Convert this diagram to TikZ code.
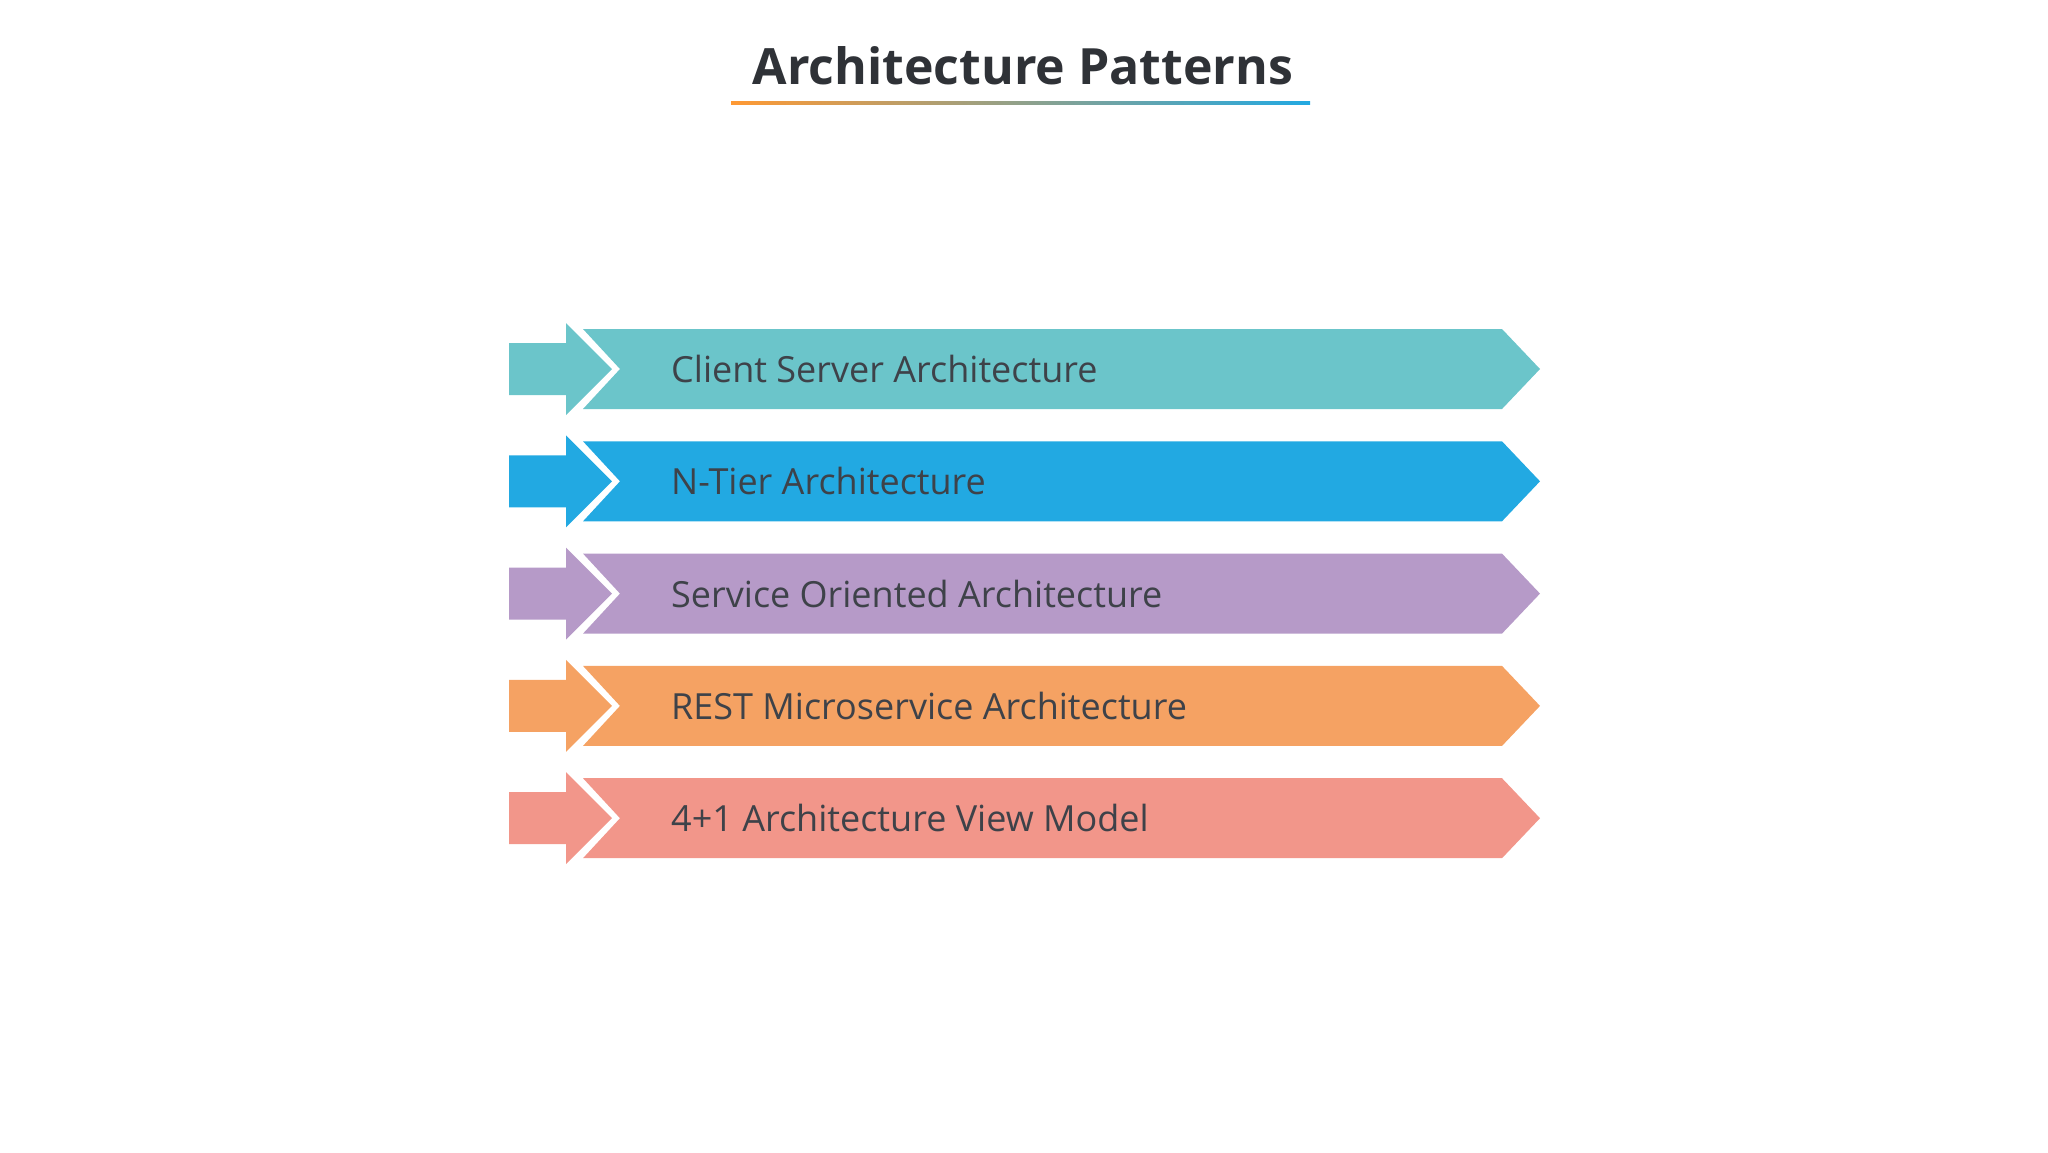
\documentclass[tikz,border=0pt]{standalone}
\usepackage{fontspec}
\setmainfont{Open Sans}
\usetikzlibrary{positioning}
\definecolor{tealband}{HTML}{6BC5CA}
\definecolor{blueband}{HTML}{22A9E2}
\definecolor{purpleband}{HTML}{B69AC8}
\definecolor{orangeband}{HTML}{F5A263}
\definecolor{salmonband}{HTML}{F2968A}
\definecolor{labelgrey}{HTML}{3E4249}
\definecolor{titlegrey}{HTML}{2F3237}
\begin{document}
\begin{tikzpicture}[x=1pt,y=-1pt,
  bandlabel/.style={anchor=west,inner sep=0pt,text=labelgrey,font=\fontsize{36}{40}\selectfont}]
\useasboundingbox (0,0) rectangle (2048,1152);
\node [inner sep=0pt,text=titlegrey,font=\fontsize{50}{56}\bfseries] (title) at (1023,66) {Architecture Patterns};
\shade [left color=orange!80, right color=blueband] (731,101.5) rectangle (1310,104.5);
\foreach \c/\lab [count=\i] in {tealband/Client Server Architecture,
  blueband/N-Tier Architecture,
  purpleband/Service Oriented Architecture,
  orangeband/REST Microservice Architecture,
  salmonband/4+1 Architecture View Model} {
  \pgfmathsetmacro{\yc}{369+112.3*(\i-1)}
  % small pointer
  \fill [\c] (509,\yc-26) -- (566,\yc-26) -- (566,\yc-46) -- (612,\yc) -- (566,\yc+46)
    -- (566,\yc+26) -- (509,\yc+26) -- cycle;
  % band
  \fill [\c] (583,\yc-40) -- (1502,\yc-40) -- (1540,\yc) -- (1502,\yc+40) -- (583,\yc+40)
    -- (620,\yc) -- cycle;
  \node [bandlabel] (band\i) at (671,\yc) {\lab};
}
\end{tikzpicture}
\end{document}
